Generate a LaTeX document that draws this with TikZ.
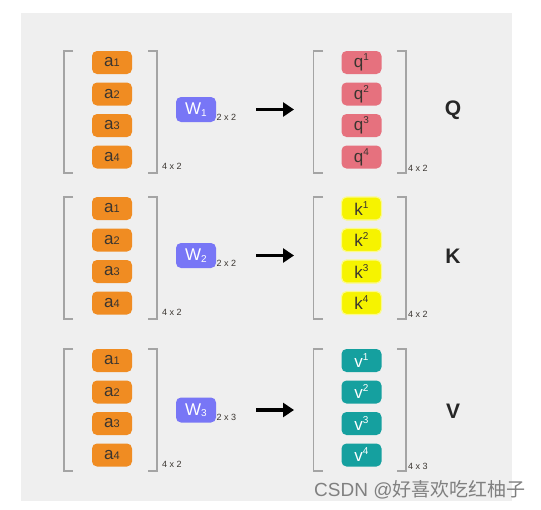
\documentclass[tikz,border=0pt]{standalone}
\usepackage{fontspec}
\setmainfont{Liberation Sans}
\newfontfamily\cjk{Noto Sans CJK SC}
\usetikzlibrary{arrows.meta}
\definecolor{bgc}{HTML}{EFEFEF}
\definecolor{orng}{HTML}{F08C22}
\definecolor{wcol}{HTML}{7876F6}
\definecolor{qcol}{HTML}{E6717E}
\definecolor{kcol}{HTML}{F6F300}
\definecolor{vcol}{HTML}{15A09F}
\definecolor{brkc}{HTML}{A4A4A4}
\definecolor{txtc}{HTML}{3A3530}
\newcommand\lowdig[1]{{\fontsize{11}{11}\selectfont #1}}
\newcommand\wsub[1]{\raisebox{-1.5pt}{\fontsize{10}{10}\selectfont #1}}
\newcommand\supdig[1]{\raisebox{7pt}{\fontsize{10}{10}\selectfont #1}}
\newcommand\qkvrow[8]{%
  % #1 top y, #2 index, #3 W dims, #4 box style, #5 var letter, #6 big letter, #7 right dims, #8 W centre offset
  \draw[brk] (73,#1) -- (64,#1) -- (64,#1+122) -- (73,#1+122);
  \draw[brk] (148,#1) -- (157,#1) -- (157,#1+122) -- (148,#1+122);
  \foreach \i/\dy in {1/11.5,2/43,3/74.5,4/106}
    \node[abox] (a#2\i) at (112,#1+\dy) {a\lowdig{\i}};
  \node[dim] (dl#2) at (162,#1+115) {4 x 2};
  \node[wbox] (w#2) at (196,#1+#8) {W\wsub{#2}};
  \node[dim] (dw#2) at (216.5,#1+#8+7.5) {#3};
  \coordinate (s#2) at (256,#1+#8);
  \coordinate (e#2) at (294,#1+#8);
  \draw[bigarrow] (s#2) -- (e#2);
  \draw[brk] (323,#1) -- (313.5,#1) -- (313.5,#1+122) -- (323,#1+122);
  \draw[brk] (397,#1) -- (406,#1) -- (406,#1+122) -- (397,#1+122);
  \foreach \i/\dy in {1/11.5,2/43,3/74.5,4/106}
    \node[#4] (r#2\i) at (361.5,#1+\dy) {#5\supdig{\i}};
  \node[dim] (dr#2) at (408,#1+117) {#7};
  \node[big] (L#2) at (453,#1+#8+1) {#6};
}
\begin{document}
\begin{tikzpicture}[x=1pt,y=-1pt,
  brk/.style={draw=brkc,line width=1.3pt},
  rbox/.style={rounded corners=5pt,minimum width=40pt,minimum height=23pt,inner sep=0pt,
    font=\fontsize{17}{17}\selectfont},
  abox/.style={rbox,fill=orng,text=txtc},
  wbox/.style={rbox,minimum height=25pt,fill=wcol,text=white},
  qbox/.style={rbox,fill=qcol,text=txtc},
  kbox/.style={rbox,fill=kcol,draw=kcol!45,line width=1.2pt,text=txtc},
  vbox/.style={rbox,fill=vcol,text=white},
  dim/.style={anchor=west,inner sep=0pt,text=txtc,font=\fontsize{9}{9}\selectfont},
  big/.style={inner sep=0pt,text=black!85,font=\bfseries\fontsize{21}{21}\selectfont},
  bigarrow/.style={line width=3.6pt,-{Triangle[length=11pt,width=14pt]}}]
\useasboundingbox (0,0) rectangle (541,509);
\fill[white] (0,0) rectangle (541,509);
\fill[bgc] (20.5,12.5) rectangle (512,501);
\qkvrow{51}{1}{2 x 2}{qbox}{q}{Q}{4 x 2}{58.5}
\qkvrow{197}{2}{2 x 2}{kbox}{k}{K}{4 x 2}{58.5}
\qkvrow{349}{3}{2 x 3}{vbox}{v}{V}{4 x 3}{61}
\node[anchor=west,inner sep=0pt,text=black!50,font=\fontsize{19}{19}\selectfont] (wm) at (314,490) {CSDN @{\cjk 好喜欢吃红柚子}};
\end{tikzpicture}
\end{document}
